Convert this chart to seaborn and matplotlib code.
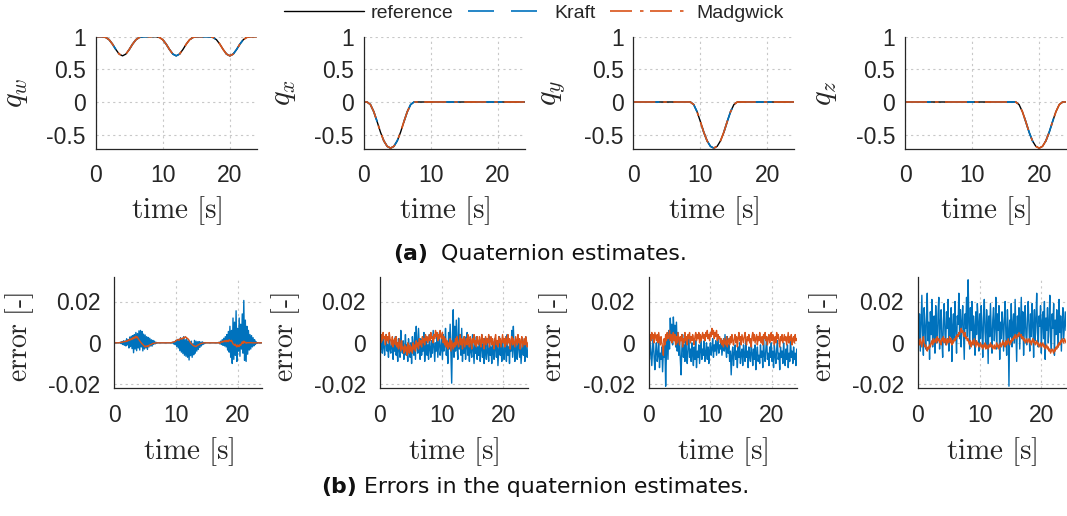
import numpy as np
import pandas as pd
import seaborn as sns
import matplotlib
matplotlib.use("Agg")
import matplotlib.pyplot as plt
from matplotlib.lines import Line2D

# ---------------- data ----------------
# top row: quaternion components, sampled every 0.5 s from 0 to 24 s
t_quat = np.linspace(0, 24, 49)
qw_ref = [1, 1, 0.999, 0.989, 0.954, 0.887, 0.804, 0.734, 0.707, 0.734, 0.804, 0.887, 0.954, 0.989, 0.999, 1,
          1, 1, 0.999, 0.989, 0.954, 0.887, 0.804, 0.734, 0.707, 0.734, 0.804, 0.887, 0.954, 0.989, 0.999, 1,
          1, 1, 0.999, 0.989, 0.954, 0.887, 0.804, 0.734, 0.707, 0.734, 0.804, 0.887, 0.954, 0.989, 0.999, 1,
          1]
qx_ref = [0, 0, -0.039, -0.148, -0.300, -0.462, -0.595, -0.679, -0.707, -0.679, -0.595, -0.462, -0.300, -0.148, -0.039, 0,
          0, 0, 0, 0, 0, 0, 0, 0, 0, 0, 0, 0, 0, 0, 0, 0,
          0, 0, 0, 0, 0, 0, 0, 0, 0, 0, 0, 0, 0, 0, 0, 0,
          0]
qy_ref = [0, 0, 0, 0, 0, 0, 0, 0, 0, 0, 0, 0, 0, 0, 0, 0,
          0, 0, -0.039, -0.148, -0.300, -0.462, -0.595, -0.679, -0.707, -0.679, -0.595, -0.462, -0.300, -0.148, -0.039, 0,
          0, 0, 0, 0, 0, 0, 0, 0, 0, 0, 0, 0, 0, 0, 0, 0,
          0]
qz_ref = [0, 0, 0, 0, 0, 0, 0, 0, 0, 0, 0, 0, 0, 0, 0, 0,
          0, 0, 0, 0, 0, 0, 0, 0, 0, 0, 0, 0, 0, 0, 0, 0,
          0, 0, -0.039, -0.148, -0.300, -0.462, -0.595, -0.679, -0.707, -0.679, -0.595, -0.462, -0.300, -0.148, -0.039, 0,
          0]
# the Kraft and Madgwick estimates coincide with the reference at this scale
qw_kraft, qx_kraft, qy_kraft, qz_kraft = qw_ref, qx_ref, qy_ref, qz_ref
qw_madg, qx_madg, qy_madg, qz_madg = qw_ref, qx_ref, qy_ref, qz_ref

# bottom row: estimation errors in units of 1e-3, sampled every 0.125 s from 0 to 24 s (one row = 2 s)
t_err = np.linspace(0, 24, 193)
ew_kraft_milli = [
    0, 0, 0, 0, 0, 0, 0, 0, 0.3, -0.4, 0.6, -0.8, 1.0, -1.2, 0.9, -1.5,
    2.0, -1.0, 1.5, -2.5, 2.8, -1.8, 3.2, -2.8, 3.5, -4.8, 4.0, -3.0, 5.0, -3.8, 4.5, -2.5,
    5.8, -3.5, 6.0, -2.0, 5.5, -3.9, 4.2, -3.0, 3.8, -2.5, 3.0, -3.2, 2.6, -2.0, 2.2, -1.5,
    1.5, -1.6, 1.2, -0.8, 0.8, -0.5, 0.3, -0.2, 0, 0, 0, 0, 0, 0, 0, 0,
    0, 0, 0, 0, 0, 0, 0, 0, 0, 0, 0, 0, 0.3, -0.5, 0.6, -0.9,
    1.2, -1.8, 1.5, -2.5, 1.8, -3.8, 2.5, -4.5, 2.0, -5.2, 3.0, -6.0, 1.5, -6.5, 2.2, -7.0,
    1.0, -8.3, 0.5, -6.2, 0.8, -7.0, -0.5, -5.8, 1.2, -5.0, 0.8, -4.0, 0.5, -3.2, 0.6, -2.2,
    0.3, -1.5, 0.5, -0.8, 0.2, -0.4, 0.1, 0, 0, 0, 0, 0, 0, 0, 0, 0,
    0, 0, 0, 0, 0, 0, 0, 0, 0.3, -0.5, 0.8, -0.8, 1.5, -1.2, 2.2, -1.5,
    3.0, -2.0, 4.0, -3.5, 5.5, -4.5, 8.0, -7.0, 6.0, -10.0, 12.0, -8.0, 10.0, -6.0, 15.5, -9.0,
    7.0, -4.0, 12.0, -6.5, 9.0, -3.0, 14.0, -5.0, 20.5, -8.5, 11.0, -9.0, 8.0, -5.5, 6.0, -3.5,
    4.0, -3.0, 3.5, -2.0, 2.5, -1.5, 1.5, -0.8, 0.5, -0.3, 0, 0, 0, 0, 0, 0,
    0]
ew_madg_milli = [
    0, 0, 0, 0, 0, 0, 0, 0.1, 0.2, 0.3, 0.2, 0.4, 0.6, 0.5, 0.7, 0.6,
    1.0, 0.8, 1.3, 1.1, 1.8, 1.4, 2.0, 1.6, 2.5, 2.0, 2.8, 2.3, 3.2, 2.5, 2.9, 2.0,
    1.5, 1.0, 0.4, 0.0, -0.5, -0.8, -1.2, -1.6, -2.0, -1.5, -1.9, -1.4, -1.8, -1.2, -1.0, -0.9,
    -0.8, -0.5, -0.3, -0.2, -0.2, -0.1, 0, 0, 0, 0, 0, 0, 0, 0, 0, 0,
    0, 0, 0, 0, 0, 0, 0, 0, 0, 0, 0.1, 0.2, 0.3, 0.4, 0.5, 0.7,
    1.0, 1.3, 1.6, 1.4, 1.2, 1.8, 2.2, 1.9, 1.8, 2.4, 2.6, 2.2, 3.0, 2.7, 2.4, 2.0,
    1.8, 1.2, 0.5, 0.0, -0.4, -0.8, -1.2, -1.4, -1.5, -1.7, -1.8, -1.5, -1.2, -1.0, -0.8, -0.6,
    -0.4, -0.3, -0.2, -0.1, 0, 0, 0, 0, 0, 0, 0, 0, 0, 0, 0, 0,
    0, 0, 0, 0, 0, 0, 0, 0, 0.2, -0.3, 0.3, 0.5, 0.3, 0.8, 0.5, 1.0,
    1.0, 0.5, 1.2, 0.8, 0.6, 1.5, 1.0, 0.8, 1.2, 0.4, -0.5, -0.8, -1.2, -0.6, -1.5, -2.0,
    -1.0, -1.6, -1.8, -0.8, -1.2, -0.3, 0.5, -0.3, 0.8, 0.2, 0.3, -0.2, 0.2, 0, 0.1, 0,
    0.2, 0, 0.1, 0, 0, 0, 0, 0, 0, 0, 0, 0, 0, 0, 0, 0,
    0]
ex_kraft_milli = [
    5, -3, 1, -5, 3, -2, -6, 0, 4, -4, -1, -7, 2, -3, -5, 1,
    -2, -8, 0, -4, 3, -6, -1, -9, 2, -3, -7, 6, -2, -5, 1, -8,
    -3, 4, -6, -1, -9, 2, -4, -7, 0, -10, 3, -2, -6, 5, -8, 8,
    -1, -5, 7, -3, -8, 2, -6, 0, -4, 5, -9, -2, 3, -6, -1, -8,
    4, -3, -7, 1, -5, 6, -2, -9, 0, -4, 3, -7, -1, 5, -6, -3,
    2, -8, 4, -4, -1, 7, -6, 0, -10, 5, -3, 9, -5, -19.5, 3, 16,
    -7, 8, -4, 11, -2, -8, 12, -3, 4, -6, 7, -9, 1, -5, 3, -8,
    -2, 5, -6, -1, -9, 2, -4, -7, 4, -3, -10, 0, -5, 3, -8, -2,
    -6, 1, -9, -3, 4, -7, -1, -10, 2, -5, -8, 0, -4, -9, 3, -6,
    -2, -10, 1, -5, -8, 2, -3, -7, 0, -11, -4, 3, -6, -1, -9, 2,
    -5, -8, 1, -3, -9, 4, -6, -2, -10, 0, -4, 6, -7, 8, -3, -9,
    1, -5, -8, 3, -2, -7, 0, -10, -4, 2, -6, -1, -9, 3, -5, -7,
    -2]
ex_madg_milli = [
    3, 0, 4, 1, 5, 2, 3, -1, 4, 1, 3, 0, 5, 2, 1, -1,
    3, -2, 1, 2, -1, 3, -2, 0, -3, 2, -1, -4, 1, -3, -2, -5,
    -1, -4, -2, -6, 0, -3, -5, -1, -4, -2, -5, 0, -3, -1, -4, 1,
    -2, 0, -3, 2, -1, 1, -2, 3, 0, 2, -1, 4, 1, 3, 0, 2,
    4, 1, 5, 2, 3, 0, 4, 2, 6, 3, 5, 1, 4, 2, 6, 3,
    2, 5, 0, 3, -1, 2, -2, 1, -3, 0, -2, 2, -4, 1, -1, -3,
    0, -2, 2, -1, 3, 0, -2, 1, 4, -1, 2, -3, 1, 3, -2, 0,
    2, -1, 4, 0, -2, 3, 1, -3, 2, 0, 4, -1, 1, -2, 3, 0,
    -1, 3, 1, -2, 4, 0, 2, -3, 1, 3, -1, 2, 0, 4, -2, 1,
    3, -1, 2, 0, -3, 2, 4, -1, 1, -2, 3, 0, 2, -2, 1, 4,
    0, 2, -2, 3, 1, -1, 4, 0, 2, -3, 1, 3, -1, 2, 0, -2,
    3, 1, -1, 4, 0, 2, -3, 1, 3, -2, 0, 2, -1, 3, 1, -2,
    0]
ey_kraft_milli = [
    -2, -8, 1, -5, -11, -3, 2, -7, -13, -4, 0, -9, -6, 1, -12, -5,
    -8, -2, -14, -4, -7, 0, -21, -5, 4, -8, 6, -3, 12, 2, 9, -1,
    12.5, 3, 8.5, -2, 10, -4, 5, -6, 2, -8, -15.5, -3, 4, -7, -1, -9,
    3, -5, -10, -2, 4, -7, -3, -9, 0, -6, -11, -2, -8, 1, -12, -4,
    -7, -1, -10, -4, 2, -8, -3, -6, 1, -9, -5, 0, -8, -2, -10, -4,
    0, -6, -3, 2, -7, -1, -4, 1, -6, -2, 2, -5, -1, -3, 1, -6,
    -2, 2, -4, 4, -3, -7, 3, -5, -1, -9, -4, -15.5, -6, -2, -11, -5,
    -1, -8, -4, -12, -2, -7, 0, -10, -5, -3, -11, -1, -6, -9, 1, -7,
    -4, -12, -2, -6, -9, 0, -5, -11, -3, -8, -1, -13, -5, -2, -9, -6,
    -10, -1, -7, -4, -12, 2, -6, -9, -3, 3, -8, -5, -11, -2, -7, 0,
    -9, -4, -12, -1, -6, -10, -3, 1, -8, -5, -13, -2, -7, -4, -10, 0,
    -6, -11, -3, -8, -1, -12, -5, -9, 2, -7, -4, -10, -2, -8, -5, -11,
    -3]
ey_madg_milli = [
    2, -1, 4, 1, 5, 2, 4, 0, 5, 3, 1, 4, 0, 5, 2, -1,
    3, 0, -2, -6, 2, -1, 4, 1, 5, 2, 3, 6, 1, 4, 0, 3,
    5, 1, 4, -1, 3, 0, 5, 2, -1, 3, 1, 4, -2, 2, 0, 5,
    1, 3, -1, 4, 2, 5, 0, 3, 1, 4, 2, -1, 3, 5, 1, 4,
    2, 5, 0, 4, 1, 3, 5, 2, 4, 1, 5, 3, 6, 2, 4, 1,
    5, 3, 7, 4, 6, 2, 5, 3, 6, 1, 4, 2, 3, 0, 2, -1,
    1, -2, 2, 0, -1, 3, -2, 1, 2, -1, 3, 0, 4, 1, -1, 2,
    4, 0, 3, -2, 2, 5, 1, 3, -1, 4, 2, 0, 3, 5, 1, -1,
    3, 1, 4, 0, 2, -2, 3, 5, 1, 4, 0, 2, 4, -1, 3, 1,
    5, 2, 0, 3, -1, 4, 2, 5, 1, 3, -1, 2, 4, 0, 3, 5,
    1, 4, 2, -1, 3, 0, 5, 2, 4, 1, -2, 3, 1, 4, 0, 2,
    4, 1, 3, -1, 2, 5, 0, 3, 1, 4, -1, 2, 3, 0, 4, 1,
    2]
ez_kraft_milli = [
    20, 2, 14, -4, 9, 23, 5, -6, 17, 8, -3, 12, 24, 1, 10, -8,
    15, 4, 21, -2, 8, 13, -5, 18, 6, 0, 14, 22, -3, 9, 16, 2,
    -7, 11, 19, 4, -1, 15, 7, 21, -4, 12, 3, 17, -9, 8, 14, 1,
    20, 6, -5, 13, 9, 24, 2, 16, -2, 10, 18, 5, -8, 14, 7, 22,
    3, 30.5, 11, -3, 17, 6, 20, -1, 13, 8, -6, 15, 4, 19, 10, -4,
    14, 2, 18, 7, -7, 12, 21, 5, -2, 16, 9, -10, 13, 3, 19, 6,
    -5, 11, 17, 1, 8, 22, -3, 14, 6, 18, -8, 10, 2, 15, 9, -4,
    12, 20, 4, -6, 16, 7, -21, 11, 3, 19, -2, 9, 14, 0, 21, 6,
    -9, 13, 5, 17, -3, 10, 22, 2, 15, -6, 8, 18, 4, -1, 12, 20,
    7, -4, 14, 3, 19, 9, -7, 16, 1, 11, 24, 5, -2, 13, 8, 18,
    -5, 10, 15, 2, 20, -8, 12, 6, 17, 0, 9, 23, 3, -3, 14, 7,
    19, -6, 11, 4, 16, 8, -2, 21, 5, 13, -4, 10, 17, 2, 9, 15,
    6]
ez_madg_milli = [
    3, 1, -1, 2, 0, -2, 1, 3, 0, -2, -1, -3, -4, -2, -3, -1,
    -2, 0, 1, -1, 2, 0, 1, 2, 0, 3, 1, 2, 0, 1, -1, 2,
    1, 3, 0, 2, 1, -1, 2, 0, 1, 3, 0, 2, -1, 1, 0, 2,
    1, 3, 2, 4, 3, 5, 4, 6, 7, 5, 6, 4, 3, 5, 2, 3,
    1, 2, 0, -1, 1, -2, 0, 1, -1, 2, 0, -2, 1, -1, 0, -2,
    -1, 0, -2, -1, -3, -1, -2, 0, -3, -1, -2, -3, -1, -2, 0, -2,
    -1, -3, -2, -1, -3, -2, 0, -2, -1, -3, -1, 0, -2, -1, 1, -1,
    0, -2, 1, -1, 0, 2, 0, -1, 1, 0, 2, 1, 3, 2, 4, 3,
    2, 4, 3, 5, 4, 3, 4, 2, 3, 1, 2, 0, 1, 2, 0, 1,
    2, 0, 1, -1, 1, 2, 0, 1, -1, 0, 1, -1, 0, -2, -1, 0,
    -2, -1, 0, -2, -1, -3, -2, -1, -3, -2, -4, -3, -5, -4, -3, -4,
    -5, -3, -4, -2, -3, -1, -2, 0, -1, 1, 0, 2, 1, 0, 2, 1,
    0]

top_ylabels = [r"$q_w$", r"$q_x$", r"$q_y$", r"$q_z$"]
xtick_vals = [0, 10, 20]
xtick_labels = ["0", "10", "20"]
top_ytick_vals = [-0.5, 0, 0.5, 1]
top_ytick_labels = ["-0.5", "0", "0.5", "1"]
bot_ytick_vals = [-0.02, 0, 0.02]
bot_ytick_labels = ["-0.02", "0", "0.02"]
legend_labels = ["reference", "Kraft", "Madgwick"]
caption_a = ("(a)", "Quaternion estimates.")
caption_b = ("(b)", "Errors in the quaternion estimates.")

# ---------------- style ----------------
sns.set_theme(style="white")
plt.rcParams["font.family"] = ["Liberation Sans", "DejaVu Sans"]
plt.rcParams["mathtext.fontset"] = "cm"
plt.rcParams["axes.unicode_minus"] = False

C_REF = "#000000"
C_KRAFT = "#0072BD"
C_MADG = "#D95319"
LW_EST = 1.2
LS_KRAFT = (0, (15.6, 10.2))
LS_MADG = (0, (13.2, 4.8, 2.1, 3.9))
TXT = "#262626"

W, H = 1067, 516
fig = plt.figure(figsize=(W / 100, H / 100), dpi=100)


def style_axes(ax, ypad):
    for s in ["top", "right"]:
        ax.spines[s].set_visible(False)
    for s in ["left", "bottom"]:
        ax.spines[s].set_color(TXT)
        ax.spines[s].set_linewidth(0.9)
    ax.set_axisbelow(True)
    ax.grid(True, color="#c8c8c8", linestyle=(0, (2, 3)), linewidth=0.8)
    ax.tick_params(axis="both", direction="in", length=3, width=0.8, colors=TXT, labelsize=16.5)
    ax.tick_params(axis="x", pad=11)
    ax.tick_params(axis="y", pad=ypad)
    ax.set_xlim(0, 24)
    ax.set_xticks(xtick_vals)
    ax.set_xticklabels(xtick_labels)
    ax.set_xlabel(r"$\mathrm{time\ [s]}$", fontsize=21, color=TXT)


top_lefts = [95.7, 363.7, 633.3, 905.0]
bot_lefts = [114.3, 380.0, 648.7, 918.0]

top_sets = [(qw_ref, qw_kraft, qw_madg), (qx_ref, qx_kraft, qx_madg),
            (qy_ref, qy_kraft, qy_madg), (qz_ref, qz_kraft, qz_madg)]
bot_sets = [(ew_kraft_milli, ew_madg_milli), (ex_kraft_milli, ex_madg_milli),
            (ey_kraft_milli, ey_madg_milli), (ez_kraft_milli, ez_madg_milli)]

for i in range(4):
    ax = fig.add_axes([top_lefts[i] / W, 1 - 149 / H, 161 / W, (149 - 36.7) / H])
    ref, kr, md = top_sets[i]
    sns.lineplot(x=t_quat, y=ref, ax=ax, color=C_REF, linewidth=1.0, estimator=None)
    sns.lineplot(x=t_quat, y=kr, ax=ax, color=C_KRAFT, linewidth=LW_EST, linestyle=LS_KRAFT, estimator=None)
    sns.lineplot(x=t_quat, y=md, ax=ax, color=C_MADG, linewidth=LW_EST, linestyle=LS_MADG, estimator=None)
    style_axes(ax, 7)
    ax.set_ylim(-0.72, 1.0)
    ax.set_yticks(top_ytick_vals)
    ax.set_yticklabels(top_ytick_labels)
    ax.set_ylabel(top_ylabels[i], fontsize=22, color=TXT, rotation=90)
    ax.yaxis.set_label_coords(-0.41, 0.5)
    ax.xaxis.set_label_coords(0.5, -0.40)

for i in range(4):
    ax = fig.add_axes([bot_lefts[i] / W, 1 - 388.3 / H, 148 / W, (388.3 - 276.7) / H])
    kr, md = bot_sets[i]
    sns.lineplot(x=t_err, y=np.array(kr) * 1e-3, ax=ax, color=C_KRAFT, linewidth=1.0, estimator=None)
    sns.lineplot(x=t_err, y=np.array(md) * 1e-3, ax=ax, color=C_MADG, linewidth=1.0, estimator=None)
    style_axes(ax, 10)
    ax.set_ylim(-0.022, 0.032)
    ax.set_yticks(bot_ytick_vals)
    ax.set_yticklabels(bot_ytick_labels)
    ax.set_ylabel(r"$\mathrm{error\ [\text{-}]}$", fontsize=20, color=TXT)
    ax.yaxis.set_label_coords(-0.53, 0.46)
    ax.xaxis.set_label_coords(0.5, -0.42)

# legend
handles = [Line2D([], [], color=C_REF, linewidth=1.0),
           Line2D([], [], color=C_KRAFT, linewidth=LW_EST, linestyle=LS_KRAFT),
           Line2D([], [], color=C_MADG, linewidth=LW_EST, linestyle=LS_MADG)]
fig.legend(handles, legend_labels, loc="center", bbox_to_anchor=(534 / W, 1 - 13 / H), ncol=3,
           frameon=False, fontsize=14, handlelength=4.1, columnspacing=0.72, handletextpad=0.36,
           labelcolor=TXT)

# captions
for (bold, rest), xs, ys in [(caption_a, (428, 441), 254), (caption_b, (357, 364), 487)]:
    fig.text(xs[0] / W, 1 - ys / H, bold, ha="right", va="center", fontsize=15.8,
             fontweight="bold", family="DejaVu Sans", color="#111111")
    fig.text(xs[1] / W, 1 - ys / H, rest, ha="left", va="center", fontsize=15.8,
             family="DejaVu Sans", color="#111111")

fig.savefig("out.png", dpi=100)
